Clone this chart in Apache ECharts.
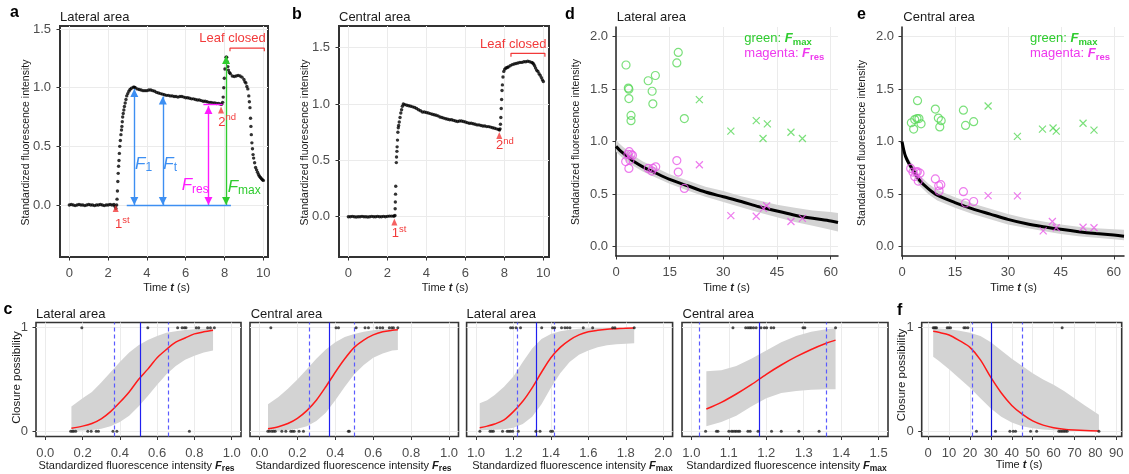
<!DOCTYPE html>
<html><head><meta charset="utf-8">
<script src="https://cdn.jsdelivr.net/npm/echarts@6/dist/echarts.min.js"></script>
<style>html,body{margin:0;padding:0;background:#fff}#c{width:1129px;height:474px}</style>
</head><body><div id="c"></div>
<script>
// ---------------- DATA ----------------
const curveA = [[0,0],[0.1,0.005],[0.2,0],[0.3,-0.005],[0.4,0],[0.5,0.005],[0.6,0],[0.7,0],[0.8,-0.005],[0.9,0],[1.0,0.005],[1.1,0],[1.2,0],[1.3,-0.005],[1.4,0],[1.5,0],[1.6,0.005],[1.7,0],[1.8,-0.005],[1.9,0],[2.0,0],[2.1,0.005],[2.2,0],[2.3,0.005],[2.35,-0.01],[2.4,-0.03],
[2.44,0],[2.46,0.05],[2.48,0.12],[2.5,0.2],[2.52,0.27],[2.54,0.33],[2.56,0.38],[2.58,0.44],[2.6,0.5],[2.63,0.55],[2.66,0.6],[2.69,0.64],[2.71,0.67],[2.73,0.71],[2.75,0.75],[2.78,0.78],[2.81,0.81],[2.84,0.84],[2.88,0.87],[2.92,0.9],[2.96,0.93],[3.01,0.95],[3.07,0.97],[3.13,0.985],[3.2,0.995],[3.3,1.005],[3.35,1.005],[3.4,1.0],[3.5,0.99],[3.6,0.985],[3.7,0.98],[3.8,0.975],[3.9,0.975],[4.0,0.975],[4.1,0.98],[4.2,0.98],[4.3,0.975],[4.4,0.97],[4.5,0.96],[4.6,0.955],[4.7,0.95],[4.8,0.945],[4.9,0.94],[5.0,0.935],[5.1,0.935],[5.2,0.93],[5.3,0.93],[5.4,0.925],[5.5,0.925],[5.6,0.92],[5.7,0.925],[5.8,0.925],[5.9,0.92],[6.0,0.915],[6.1,0.915],[6.2,0.91],[6.3,0.905],[6.4,0.905],[6.5,0.9],[6.6,0.895],[6.7,0.895],[6.8,0.89],[6.9,0.885],[7.0,0.885],[7.1,0.88],[7.2,0.875],[7.3,0.875],[7.4,0.87],[7.5,0.87],[7.6,0.865],[7.7,0.865],[7.8,0.86],[7.85,0.86],[7.9,0.875],
[7.93,0.92],[7.96,1.0],[7.99,1.08],[8.02,1.16],[8.05,1.22],[8.08,1.26],[8.11,1.26],[8.14,1.22],[8.17,1.18],[8.2,1.15],[8.25,1.13],[8.3,1.12],[8.4,1.1],[8.5,1.095],[8.6,1.1],[8.7,1.105],[8.8,1.1],[8.9,1.09],[9.0,1.07],[9.05,1.05],[9.1,1.04],[9.15,1.01],[9.2,0.99],[9.25,0.93],[9.28,0.88],[9.31,0.83],[9.34,0.74],[9.36,0.67],[9.38,0.6],[9.41,0.53],[9.44,0.48],[9.47,0.43],[9.5,0.4],[9.55,0.36],[9.6,0.32],[9.65,0.3],[9.7,0.28],[9.75,0.26],[9.8,0.245],[9.85,0.235],[9.9,0.225],[9.95,0.215],[10,0.21]];

const curveB = [[0,0],[0.1,0],[0.2,0.003],[0.3,0],[0.4,-0.003],[0.5,0],[0.6,0],[0.7,0.003],[0.8,0],[0.9,0],[1.0,-0.003],[1.1,0],[1.2,0.003],[1.3,0],[1.4,0],[1.5,0.003],[1.6,0],[1.7,0],[1.8,0.003],[1.9,0],[2.0,0.003],[2.1,0.005],[2.2,0.005],[2.3,0.005],[2.35,0.005],
[2.39,0.01],[2.4,0.07],[2.41,0.13],[2.42,0.2],[2.43,0.27],[2.46,0.48],[2.47,0.53],[2.49,0.58],[2.5,0.62],[2.52,0.68],[2.54,0.75],[2.56,0.79],[2.58,0.81],[2.61,0.84],[2.65,0.88],[2.69,0.92],[2.73,0.95],[2.77,0.98],[2.82,1.0],[2.9,0.995],[3.0,0.99],[3.1,0.985],[3.2,0.98],[3.3,0.975],[3.4,0.97],[3.5,0.96],[3.6,0.95],[3.7,0.94],[3.8,0.93],[3.9,0.93],[4.0,0.925],[4.1,0.92],[4.2,0.915],[4.3,0.91],[4.4,0.905],[4.5,0.9],[4.6,0.895],[4.7,0.885],[4.8,0.88],[4.9,0.875],[5.0,0.87],[5.1,0.865],[5.2,0.86],[5.3,0.86],[5.4,0.855],[5.5,0.85],[5.6,0.845],[5.7,0.85],[5.8,0.85],[5.9,0.845],[6.0,0.84],[6.1,0.835],[6.2,0.83],[6.3,0.83],[6.4,0.825],[6.5,0.82],[6.6,0.815],[6.7,0.815],[6.8,0.81],[6.9,0.805],[7.0,0.805],[7.1,0.8],[7.2,0.8],[7.3,0.795],[7.4,0.79],[7.5,0.785],[7.6,0.78],[7.7,0.775],[7.75,0.77],
[7.78,0.78],[7.8,0.82],[7.82,0.88],[7.84,0.96],[7.86,1.04],[7.88,1.12],[7.9,1.17],[7.93,1.24],[7.97,1.29],[8.02,1.31],[8.08,1.32],[8.15,1.325],[8.2,1.33],[8.3,1.34],[8.4,1.35],[8.5,1.355],[8.6,1.36],[8.7,1.365],[8.8,1.37],[8.9,1.37],[9.0,1.375],[9.1,1.375],[9.2,1.38],[9.3,1.375],[9.4,1.37],[9.45,1.365],[9.5,1.355],[9.55,1.34],[9.6,1.32],[9.66,1.3],[9.72,1.29],[9.78,1.27],[9.84,1.255],[9.9,1.235],[9.95,1.215],[10.0,1.2]];

// panel a annotations (data coordinates)
const arrowsA = [[3.35,0,3.35,0.99],[4.82,0,4.82,0.925],[7.17,0,7.17,0.845],[8.08,0,8.08,1.27]];
const refLinesA = [[2.96,0,8.33,0],[6.91,0.858,7.9,0.858]];
const markersA = [[2.39,-0.03],[7.82,0.81]];
const bracketA = [[8.28,1.31],[8.28,1.337],[10.05,1.337],[10.05,1.31]];
const markersB = [[2.36,-0.047],[7.74,0.72]];
const bracketB = [[8.34,1.42],[8.34,1.45],[10.08,1.45],[10.08,1.42]];

// panel d
const dFmaxCircle = [[2.8,1.73],[3.45,1.51],[3.6,1.5],[3.6,1.41],[4.2,1.25],[4.2,1.2],[9.0,1.58],[10.1,1.48],[10.3,1.36],[11.0,1.63],[17.0,1.75],[17.4,1.85],[19.1,1.22]];
const dFmaxCross = [[23.3,1.4],[32.1,1.1],[39.2,1.2],[41.1,1.03],[42.3,1.17],[48.9,1.09],[52.1,1.03]];
const dFresCircle = [[2.7,0.81],[3.35,0.88],[3.7,0.905],[4.2,0.88],[4.6,0.87],[3.9,0.825],[3.6,0.745],[9.0,0.745],[10.0,0.72],[10.3,0.745],[11.1,0.76],[17.0,0.82],[17.4,0.71],[19.1,0.555]];
const dFresCross = [[23.3,0.78],[32.1,0.295],[39.2,0.29],[41.2,0.365],[42.1,0.39],[48.9,0.24],[52.1,0.27]];
const dFitX = [0,1,2,3.5,5,7.5,10,15,20,25,30,35,40,45,50,55,60,62.05];
const dFit = [0.955,0.92,0.89,0.85,0.81,0.76,0.72,0.64,0.58,0.52,0.475,0.43,0.38,0.34,0.3,0.27,0.245,0.23];
const dLo = [0.905,0.87,0.84,0.8,0.765,0.715,0.675,0.6,0.535,0.475,0.425,0.375,0.325,0.28,0.235,0.2,0.16,0.145];
const dHi = [1.015,0.98,0.95,0.91,0.865,0.81,0.77,0.69,0.63,0.57,0.53,0.48,0.44,0.4,0.37,0.345,0.33,0.32];

// panel e
const eFmaxCircle = [[2.65,1.18],[3.3,1.12],[3.6,1.21],[4.25,1.22],[4.4,1.39],[4.8,1.22],[5.4,1.17],[9.45,1.31],[10.3,1.225],[10.7,1.14],[11.1,1.2],[17.4,1.3],[18.0,1.155],[20.3,1.19]];
const eFmaxCross = [[24.4,1.34],[32.7,1.05],[39.8,1.12],[42.8,1.13],[43.7,1.1],[51.3,1.175],[54.4,1.11]];
const eFresCircle = [[2.46,0.745],[3.1,0.71],[3.6,0.667],[4.0,0.71],[4.35,0.714],[5.1,0.7],[4.6,0.625],[9.45,0.645],[10.4,0.58],[11.0,0.59],[10.5,0.53],[17.4,0.524],[18.0,0.416],[20.3,0.43]];
const eFresCross = [[24.4,0.486],[32.7,0.483],[40.0,0.15],[42.6,0.24],[43.7,0.18],[51.3,0.185],[54.4,0.18]];
const eFitX = [0,0.5,1,2,3.5,5,7.5,10,15,20,25,30,35,40,45,50,55,60,62.9];
const eFit = [1.0,0.92,0.86,0.79,0.71,0.63,0.55,0.49,0.42,0.36,0.31,0.26,0.22,0.19,0.165,0.143,0.125,0.11,0.1];
const eLo = [0.99,0.9,0.83,0.75,0.66,0.58,0.5,0.44,0.37,0.31,0.26,0.21,0.18,0.15,0.12,0.1,0.085,0.07,0.06];
const eHi = [1.01,0.95,0.89,0.83,0.76,0.68,0.6,0.54,0.47,0.41,0.36,0.31,0.27,0.24,0.21,0.19,0.175,0.165,0.16];

// panel c (four logistic fits) and f
const c1X = [0.14,0.2,0.25,0.3,0.35,0.4,0.45,0.5,0.55,0.6,0.65,0.7,0.75,0.8,0.85,0.9];
const c1Fit = [0.03,0.05,0.075,0.12,0.19,0.28,0.38,0.5,0.6,0.71,0.79,0.86,0.9,0.94,0.96,0.975];
const c1Hi = [0.24,0.32,0.38,0.47,0.57,0.67,0.76,0.83,0.88,0.92,0.95,0.965,0.978,0.985,0.99,0.995];
const c1Lo = [0.003,0.007,0.013,0.025,0.05,0.09,0.15,0.24,0.34,0.45,0.55,0.63,0.69,0.73,0.76,0.78];
const c1Rug0 = [0.136,0.145,0.152,0.163,0.228,0.246,0.273,0.285,0.363,0.384,0.773];
const c1Rug1 = [0.196,0.55,0.71,0.734,0.746,0.755,0.81,0.823,0.871,0.886,0.907];
const c1Lines = [0.505,0.371,0.657];

const c2X = [0.045,0.1,0.15,0.2,0.25,0.3,0.35,0.4,0.45,0.5,0.55,0.6,0.65,0.7,0.73];
const c2Fit = [0.025,0.045,0.075,0.125,0.2,0.3,0.43,0.57,0.7,0.81,0.88,0.93,0.96,0.975,0.98];
const c2Hi = [0.26,0.33,0.41,0.5,0.6,0.7,0.79,0.86,0.91,0.94,0.96,0.975,0.985,0.99,0.99];
const c2Lo = [0.003,0.006,0.012,0.025,0.05,0.1,0.18,0.3,0.43,0.55,0.64,0.71,0.75,0.78,0.785];
const c2Rug0 = [0.044,0.053,0.065,0.074,0.083,0.118,0.139,0.165,0.174,0.183,0.209,0.232,0.469,0.474];
const c2Rug1 = [0.06,0.404,0.417,0.51,0.557,0.575,0.619,0.636,0.65,0.685,0.698,0.707,0.73];
const c2Lines = [0.373,0.255,0.496];

const c3X = [1.02,1.06,1.1,1.15,1.2,1.25,1.3,1.35,1.4,1.45,1.5,1.55,1.6,1.65,1.7,1.75,1.8,1.845];
const c3Fit = [0.035,0.05,0.07,0.11,0.19,0.29,0.42,0.57,0.71,0.81,0.88,0.93,0.96,0.975,0.985,0.99,0.995,0.997];
const c3Hi = [0.27,0.3,0.35,0.43,0.53,0.67,0.8,0.89,0.94,0.965,0.98,0.99,0.994,0.996,0.998,0.999,0.999,1.0];
const c3Lo = [0.01,0.012,0.015,0.02,0.035,0.07,0.14,0.26,0.42,0.56,0.67,0.74,0.78,0.81,0.83,0.84,0.845,0.85];
const c3Rug0 = [1.021,1.075,1.084,1.093,1.142,1.167,1.176,1.185,1.196,1.226,1.32,1.342,1.399,1.409];
const c3Rug1 = [1.185,1.196,1.214,1.238,1.351,1.409,1.42,1.457,1.475,1.488,1.502,1.573,1.623,1.73,1.742,1.845];
const c3Lines = [1.324,1.222,1.418];

const c4X = [1.04,1.08,1.12,1.16,1.2,1.24,1.28,1.32,1.36,1.385];
const c4Fit = [0.215,0.28,0.36,0.45,0.55,0.64,0.72,0.79,0.85,0.88];
const c4Hi = [0.58,0.59,0.63,0.7,0.78,0.86,0.92,0.96,0.985,0.994];
const c4Lo = [0.05,0.09,0.15,0.24,0.32,0.37,0.39,0.4,0.405,0.407];
const c4Rug0 = [1.038,1.067,1.071,1.1,1.107,1.111,1.116,1.12,1.125,1.129,1.151,1.157,1.178,1.214,1.24,1.287,1.341];
const c4Rug1 = [1.111,1.145,1.151,1.156,1.16,1.166,1.173,1.186,1.195,1.201,1.213,1.22,1.298,1.303,1.385];
const c4Lines = [1.178,1.024,1.363];

const fX = [2.4,5,10,15,20,25,30,35,40,45,50,55,60,65,70,75,81.7];
const fFit = [0.965,0.955,0.93,0.875,0.81,0.69,0.52,0.37,0.25,0.165,0.1,0.06,0.035,0.02,0.012,0.007,0.004];
const fHi = [0.995,0.993,0.985,0.97,0.95,0.92,0.86,0.78,0.7,0.63,0.56,0.5,0.45,0.39,0.32,0.25,0.16];
const fLo = [0.72,0.68,0.6,0.51,0.42,0.32,0.22,0.14,0.085,0.05,0.03,0.018,0.01,0.006,0.003,0.002,0.001];
const fRug0 = [23.1,32.2,39.1,40.7,41.8,49.0,51.9,62.5,63.3,64.1,64.9,65.7,66.5,81.7];
const fRug1 = [2.4,3.0,3.5,4.0,9.1,9.9,10.7,17.1,17.9,19.0,64.1];
const fLines = [30.4,21.0,45.0];

// tick values
const ticksT10 = [0,2,4,6,8,10];
const ticksYab = [0,0.5,1,1.5];
const ticksT60 = [0,15,30,45,60];
const ticksYde = [0,0.5,1,1.5,2];
const ticksFres = [0,0.2,0.4,0.6,0.8,1.0];
const ticksFmaxL = [1.0,1.2,1.4,1.6,1.8,2.0];
const ticksFmaxC = [1.0,1.1,1.2,1.3,1.4,1.5];
const ticksT90 = [0,10,20,30,40,50,60,70,80,90];
const ticksP = [0,1];

// ---------------- STYLE ----------------
const FONT = "'Liberation Sans', Arial, Helvetica, sans-serif";
const RED = '#f23a3a', BLUE = '#3d8ff2', MAG = '#ff1aff', GRN = '#2fcc2f';
const PTG = '#5ad85a', PTM = '#e85ae8';
const BAND = '#d3d3d3';
const LBL = '#4d4d4d';

const grids = [
  {left:60, top:26, width:208, height:231, show:true, borderColor:'#333', borderWidth:2},
  {left:339, top:26, width:210, height:231, show:true, borderColor:'#333', borderWidth:2},
  {left:616, top:27, width:222, height:229},
  {left:902, top:27, width:222, height:229},
  {left:36, top:322.5, width:205, height:114, show:true, borderColor:'#333', borderWidth:1.6},
  {left:250, top:322.5, width:208.5, height:114, show:true, borderColor:'#333', borderWidth:1.6},
  {left:466.6, top:322.5, width:206, height:114, show:true, borderColor:'#333', borderWidth:1.6},
  {left:682, top:322.5, width:206, height:114, show:true, borderColor:'#333', borderWidth:1.6},
  {left:921.7, top:322.5, width:200, height:114, show:true, borderColor:'#333', borderWidth:1.6}
];

function ax(g, min, max, ticks, dec, opt) {
  opt = opt || {};
  return {
    type:'value', gridIndex:g, min, max,
    axisLine:{show:!!opt.line, onZero:false, lineStyle:{color:'#222', width:1.5}},
    axisTick:{show:opt.tick !== false, length:3.5, customValues:ticks, lineStyle:{color:'#333', width:1}},
    axisLabel:{show:opt.label !== false, customValues:ticks, margin:opt.margin || 8,
      formatter:v => Number(v).toFixed(dec), color:LBL, fontSize:13, fontFamily:FONT},
    splitLine:{show:true, lineStyle:{color:'#ebebeb', width:1}}
  };
}

const xAxes = [
  ax(0,-0.48,10.24,ticksT10,0,{margin:10}),
  ax(1,-0.48,10.29,ticksT10,0,{margin:10}),
  ax(2,0,62.05,ticksT60,0,{line:true,margin:10}),
  ax(3,0,62.9,ticksT60,0,{line:true,margin:10}),
  ax(4,-0.05,1.05,ticksFres,1,{margin:10}),
  ax(5,-0.05,1.05,ticksFres,1,{margin:10}),
  ax(6,0.95,2.05,ticksFmaxL,1,{margin:10}),
  ax(7,0.975,1.525,ticksFmaxC,1,{margin:10}),
  ax(8,-3.1,92.6,ticksT90,0,{margin:10})
];
const yAxes = [
  ax(0,-0.443,1.526,ticksYab,1,{margin:9}),
  ax(1,-0.358,1.693,ticksYab,1,{margin:9}),
  ax(2,-0.089,2.092,ticksYde,1,{line:true,margin:8}),
  ax(3,-0.089,2.092,ticksYde,1,{line:true,margin:8}),
  ax(4,-0.05,1.05,ticksP,0,{margin:8}),
  ax(5,-0.05,1.05,ticksP,0,{label:false,tick:false}),
  ax(6,-0.05,1.05,ticksP,0,{label:false,tick:false}),
  ax(7,-0.05,1.05,ticksP,0,{label:false,tick:false}),
  ax(8,-0.05,1.05,ticksP,0,{margin:8})
];

function band(g, xs, lo, hi) {
  return {type:'custom', xAxisIndex:g, yAxisIndex:g, silent:true, z:1,
    data: xs.map((x,i)=>[x, lo[i], hi[i]]),
    renderItem:(params, api) => {
      if (params.dataIndex !== 0) return null;
      const pts = [];
      for (let i=0;i<xs.length;i++) pts.push(api.coord([xs[i], hi[i]]));
      for (let i=xs.length-1;i>=0;i--) pts.push(api.coord([xs[i], lo[i]]));
      return {type:'polygon', shape:{points:pts}, style:{fill:BAND}};
    }};
}
function fitLine(g, xs, ys, color, width) {
  return {type:'line', xAxisIndex:g, yAxisIndex:g, data: xs.map((x,i)=>[x, ys[i]]), showSymbol:false, symbol:'none',
    smooth:0.3, lineStyle:{color, width}, z:3, silent:true};
}
function pts(g, data, symbol, color, size) {
  return {type:'scatter', xAxisIndex:g, yAxisIndex:g, data, symbol, symbolSize:size, z:4, silent:true,
    itemStyle:{color:'rgba(0,0,0,0)', borderColor:color, borderWidth:1.2}};
}
const CROSS = 'path://M0,0L10,10M10,0L0,10';
function rug(g, vals, level, lines, solidCol, dashCol) {
  const s = {type:'scatter', xAxisIndex:g, yAxisIndex:g, data: vals.map(v=>[v, level]), symbolSize:3, z:5, silent:true,
    itemStyle:{color:'#222'}};
  if (lines) {
    s.markLine = {silent:true, symbol:'none', label:{show:false}, animation:false,
      data:[
        {xAxis:lines[0], lineStyle:{color:solidCol, width:1.2, type:'solid'}},
        {xAxis:lines[1], lineStyle:{color:dashCol, width:1.2, type:[4,3]}},
        {xAxis:lines[2], lineStyle:{color:dashCol, width:1.2, type:[4,3]}}
      ]};
  }
  return s;
}
function cPanel(g, xs, fit, lo, hi, r0, r1, lines, solidCol) {
  return [band(g, xs, lo, hi), rug(g, r0, 0, lines, solidCol || '#2020f0', '#5a5aff'), rug(g, r1, 1), fitLine(g, xs, fit, '#ff1a1a', 1.5)];
}

const arrowCols = [BLUE, BLUE, MAG, GRN];
const series = [
  {type:'scatter', xAxisIndex:0, yAxisIndex:0, data:curveA, symbolSize:3.4, itemStyle:{color:'#000'}, z:3, silent:true,
    markLine:{silent:true, animation:false, label:{show:false}, symbol:['triangle','triangle'], symbolSize:8,
      symbolOffset:[[0,4],[0,4]],
      data: arrowsA.map((a,i)=>[{coord:[a[0],a[1]], lineStyle:{color:arrowCols[i], width:1.4, type:'solid'}, itemStyle:{color:arrowCols[i]}}, {coord:[a[2],a[3]]}])
        .concat(refLinesA.map((a,i)=>[{coord:[a[0],a[1]], symbol:'none', lineStyle:{color:i?MAG:BLUE, width:1.4, type:'solid'}}, {coord:[a[2],a[3]], symbol:'none'}]))
    }},
  {type:'scatter', xAxisIndex:0, yAxisIndex:0, data:markersA, symbol:'triangle', symbolSize:[6,7], itemStyle:{color:RED}, z:6, silent:true},
  {type:'line', xAxisIndex:0, yAxisIndex:0, data:bracketA, symbol:'none', lineStyle:{color:RED, width:1.2}, z:6, silent:true},
  {type:'scatter', xAxisIndex:1, yAxisIndex:1, data:curveB, symbolSize:3.4, itemStyle:{color:'#000'}, z:3, silent:true},
  {type:'scatter', xAxisIndex:1, yAxisIndex:1, data:markersB, symbol:'triangle', symbolSize:[6,7], itemStyle:{color:RED}, z:6, silent:true},
  {type:'line', xAxisIndex:1, yAxisIndex:1, data:bracketB, symbol:'none', lineStyle:{color:RED, width:1.2}, z:6, silent:true},
  band(2, dFitX, dLo, dHi), fitLine(2, dFitX, dFit, '#000', 3),
  pts(2, dFmaxCircle, 'circle', PTG, 8), pts(2, dFmaxCross, CROSS, PTG, 7),
  pts(2, dFresCircle, 'circle', PTM, 8), pts(2, dFresCross, CROSS, PTM, 7),
  band(3, eFitX, eLo, eHi), fitLine(3, eFitX, eFit, '#000', 3),
  pts(3, eFmaxCircle, 'circle', PTG, 8), pts(3, eFmaxCross, CROSS, PTG, 7),
  pts(3, eFresCircle, 'circle', PTM, 8), pts(3, eFresCross, CROSS, PTM, 7)
].concat(
  cPanel(4, c1X, c1Fit, c1Lo, c1Hi, c1Rug0, c1Rug1, c1Lines),
  cPanel(5, c2X, c2Fit, c2Lo, c2Hi, c2Rug0, c2Rug1, c2Lines),
  cPanel(6, c3X, c3Fit, c3Lo, c3Hi, c3Rug0, c3Rug1, c3Lines),
  cPanel(7, c4X, c4Fit, c4Lo, c4Hi, c4Rug0, c4Rug1, c4Lines),
  cPanel(8, fX, fFit, fLo, fHi, fRug0, fRug1, fLines, '#1010d8')
);

// ---------------- TEXT ----------------
function T(x, y, text, st, extra) {
  return Object.assign({type:'text', x, y, silent:true, z:100,
    style:Object.assign({text, fontFamily:FONT, fontSize:13, fill:'#1a1a1a', align:'left', verticalAlign:'middle'}, st)}, extra || {});
}
const tok = (o) => Object.assign({fontFamily:FONT}, o);
const timeRich = (size) => ({a:tok({fontSize:size, fill:'#1a1a1a'}), b:tok({fontSize:size, fill:'#1a1a1a', fontWeight:'bold', fontStyle:'italic'})});
function fLabel(x, top, sub, color, size, subSize, pad, bold) {
  return T(x, top, '{f|F}{s|' + sub + '}', {verticalAlign:'top', rich:{
    f:tok({fontSize:size, fill:color, fontStyle:'italic', fontWeight:bold?'bold':'normal', lineHeight:size, verticalAlign:'top'}),
    s:tok({fontSize:subSize, fill:color, fontWeight:bold?'bold':'normal', lineHeight:subSize, padding:[pad,0,0,0], verticalAlign:'top'})}});
}
function ordinal(x, top, n, sup) {
  return T(x, top, '{m|' + n + '}{s|' + sup + '}', {verticalAlign:'top', rich:{
    m:tok({fontSize:13, fill:RED, lineHeight:16, padding:[3,0,0,0], verticalAlign:'bottom'}),
    s:tok({fontSize:9.5, fill:RED, lineHeight:10, verticalAlign:'top'})}});
}
function legend(x, top, word, sub, color) {
  return T(x, top, '{w|' + word + ': }{f|F}{s|' + sub + '}', {verticalAlign:'top', rich:{
    w:tok({fontSize:13, fill:color, lineHeight:13, verticalAlign:'top'}),
    f:tok({fontSize:13, fill:color, fontStyle:'italic', fontWeight:'bold', lineHeight:13, verticalAlign:'top'}),
    s:tok({fontSize:9.5, fill:color, fontWeight:'bold', lineHeight:10, padding:[5,0,0,0], verticalAlign:'top'})}});
}
function xName(cx, top, sub) {
  return T(cx, top, '{a|Standardized fluorescence intensity }{f|F}{s|' + sub + '}', {align:'center', verticalAlign:'top', rich:{
    a:tok({fontSize:11, fill:'#1a1a1a', lineHeight:11, verticalAlign:'top'}),
    f:tok({fontSize:11, fill:'#1a1a1a', fontStyle:'italic', fontWeight:'bold', lineHeight:11, verticalAlign:'top'}),
    s:tok({fontSize:8.5, fill:'#1a1a1a', fontWeight:'bold', lineHeight:9, padding:[4,0,0,0], verticalAlign:'top'})}});
}
const ROT = Math.PI / 2;
const graphics = [
  // panel letters
  T(10,12.5,'a',{fontSize:16,fontWeight:'bold',fill:'#000'}),
  T(292,14.4,'b',{fontSize:16,fontWeight:'bold',fill:'#000'}),
  T(3.5,309.5,'c',{fontSize:16,fontWeight:'bold',fill:'#000'}),
  T(565,14.4,'d',{fontSize:16,fontWeight:'bold',fill:'#000'}),
  T(857,14.4,'e',{fontSize:16,fontWeight:'bold',fill:'#000'}),
  T(897,311,'f',{fontSize:16,fontWeight:'bold',fill:'#000'}),
  // titles
  T(60,17.5,'Lateral area'), T(339,17.5,'Central area'), T(616.7,17.5,'Lateral area'), T(903.3,17.5,'Central area'),
  T(36,314.5,'Lateral area'), T(250.7,314.5,'Central area'), T(466.5,314.5,'Lateral area'), T(682.5,314.5,'Central area'),
  // y names
  T(26,142.5,'Standardized fluorescence intensity',{fontSize:10.5,align:'center'},{rotation:ROT}),
  T(305,142.5,'Standardized fluorescence intensity',{fontSize:10.5,align:'center'},{rotation:ROT}),
  T(576.5,142,'Standardized fluorescence intensity',{fontSize:10.5,align:'center'},{rotation:ROT}),
  T(861.7,143,'Standardized fluorescence intensity',{fontSize:10.5,align:'center'},{rotation:ROT}),
  T(16.7,377.5,'Closure possibility',{fontSize:11.5,align:'center'},{rotation:ROT}),
  T(901.7,375,'Closure possibility',{fontSize:11.5,align:'center'},{rotation:ROT}),
  // x names
  T(166.5,288,'{a|Time }{b|t}{a| (s)}',{align:'center',rich:timeRich(11)}),
  T(445,288,'{a|Time }{b|t}{a| (s)}',{align:'center',rich:timeRich(11)}),
  T(726.5,288,'{a|Time }{b|t}{a| (s)}',{align:'center',rich:timeRich(11)}),
  T(1013.5,288,'{a|Time }{b|t}{a| (s)}',{align:'center',rich:timeRich(11)}),
  T(1019,465,'{a|Time }{b|t}{a| (s)}',{align:'center',rich:timeRich(11)}),
  xName(136.5,460,'res'), xName(353.5,460,'res'), xName(572.5,460,'max'), xName(786.5,460,'max'),
  // panel a annotations
  fLabel(135,155.5,'1',BLUE,17,12,6,false),
  fLabel(163.3,155.5,'t',BLUE,17,12,6,false),
  fLabel(181.7,177.2,'res',MAG,17,12,6,false),
  fLabel(227.7,178.8,'max',GRN,17,12,6,false),
  ordinal(115,215,'1','st'), ordinal(218.3,112.7,'2','nd'),
  T(199.3,38.8,'Leaf closed',{fill:RED}),
  // panel b annotations
  ordinal(391.7,224.4,'1','st'), ordinal(496,136.1,'2','nd'),
  T(480,44.8,'Leaf closed',{fill:RED}),
  // legends d, e
  legend(744.3,32.2,'green','max',GRN), legend(744.3,47.2,'magenta','res','#ee3aee'),
  legend(1030,32.2,'green','max',GRN), legend(1030,47.2,'magenta','res','#ee3aee')
];

const chart = echarts.init(document.getElementById('c'), null, {renderer:'canvas'});
chart.setOption({
  animation:false,
  backgroundColor:'#fff',
  grid:grids, xAxis:xAxes, yAxis:yAxes, series,
  graphic:graphics
});
</script></body></html>
